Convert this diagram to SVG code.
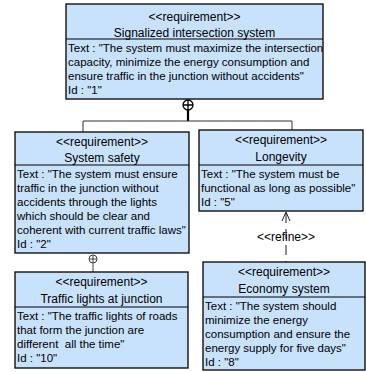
<svg xmlns="http://www.w3.org/2000/svg" width="366" height="372" viewBox="0 0 366 372">
<style>
.box{fill:#c9e2fb;stroke:#000;stroke-width:1.3}
.div{stroke:#000;stroke-width:1}
.st{font-family:"Liberation Sans",Arial,sans-serif;font-size:12px;fill:#000;text-anchor:middle}
.bd{font-family:"Liberation Sans",Arial,sans-serif;font-size:11.5px;fill:#000;white-space:pre}
.ln{fill:none;stroke:#333;stroke-width:1}
</style>
<defs>
<clipPath id="c1"><rect x="66" y="4" width="257" height="95"/></clipPath>
</defs>
<g id="connectors">
<circle cx="188" cy="105" r="5" fill="#fff" stroke="#000" stroke-width="1.3"/>
<path d="M183 105H193M188 100V110" stroke="#000" stroke-width="1.3"/>
<path d="M188 110V121" stroke="#000" stroke-width="2.2"/>
<path class="ln" d="M83 132V121H292V130"/>
<circle cx="93" cy="259" r="4" fill="#fff" stroke="#444" stroke-width="1"/>
<path d="M89 259H97M93 255V263M93 263V272" stroke="#444" stroke-width="1"/>
<path d="M286 213V262" stroke="#222" stroke-width="1" stroke-dasharray="10,6"/>
<path d="M282 221L286 212L290 221" fill="none" stroke="#222" stroke-width="1"/>
<text class="st" x="286" y="241">&lt;&lt;refine&gt;&gt;</text>
</g>
<g id="n1">
<rect class="box" x="66" y="4" width="257" height="95"/>
<line class="div" x1="66" y1="39" x2="323" y2="39"/>
<text class="st" x="194.5" y="21">&lt;&lt;requirement&gt;&gt;</text>
<text class="st" x="194.5" y="37">Signalized intersection system</text>
<g clip-path="url(#c1)">
<text class="bd" x="68" y="52">Text : "The system must maximize the intersection</text>
<text class="bd" x="68" y="66">capacity, minimize the energy consumption and</text>
<text class="bd" x="68" y="80">ensure traffic in the junction without accidents"</text>
<text class="bd" x="68" y="94">Id : "1"</text>
</g>
</g>
<g id="n2">
<rect class="box" x="15" y="132" width="174" height="121"/>
<line class="div" x1="15" y1="165" x2="189" y2="165"/>
<text class="st" x="102" y="146">&lt;&lt;requirement&gt;&gt;</text>
<text class="st" x="102" y="162">System safety</text>
<text class="bd" x="17" y="178">Text : "The system must ensure</text>
<text class="bd" x="17" y="192">traffic in the junction without</text>
<text class="bd" x="17" y="206">accidents through the lights</text>
<text class="bd" x="17" y="220">which should be clear and</text>
<text class="bd" x="17" y="234">coherent with current traffic laws"</text>
<text class="bd" x="17" y="248">Id : "2"</text>
</g>
<g id="n5">
<rect class="box" x="199" y="130" width="164" height="81"/>
<line class="div" x1="199" y1="165" x2="363" y2="165"/>
<text class="st" x="281" y="144">&lt;&lt;requirement&gt;&gt;</text>
<text class="st" x="281" y="161">Longevity</text>
<text class="bd" x="201" y="178">Text : "The system must be</text>
<text class="bd" x="201" y="192">functional as long as possible"</text>
<text class="bd" x="201" y="206">Id : "5"</text>
</g>
<g id="n10">
<rect class="box" x="15" y="272" width="173" height="96"/>
<line class="div" x1="15" y1="307" x2="188" y2="307"/>
<text class="st" x="101.5" y="286">&lt;&lt;requirement&gt;&gt;</text>
<text class="st" x="101.5" y="303">Traffic lights at junction</text>
<text class="bd" x="17" y="320">Text : "The traffic lights of roads</text>
<text class="bd" x="17" y="334">that form the junction are</text>
<text class="bd" x="17" y="348" xml:space="preserve">different  all the time"</text>
<text class="bd" x="17" y="362">Id : "10"</text>
</g>
<g id="n8">
<rect class="box" x="203" y="262" width="162" height="108"/>
<line class="div" x1="203" y1="297" x2="365" y2="297"/>
<text class="st" x="284" y="276">&lt;&lt;requirement&gt;&gt;</text>
<text class="st" x="284" y="293">Economy system</text>
<text class="bd" x="205" y="310">Text : "The system should</text>
<text class="bd" x="205" y="324">minimize the energy</text>
<text class="bd" x="205" y="338">consumption and ensure the</text>
<text class="bd" x="205" y="352">energy supply for five days"</text>
<text class="bd" x="205" y="366">Id : "8"</text>
</g>
</svg>
